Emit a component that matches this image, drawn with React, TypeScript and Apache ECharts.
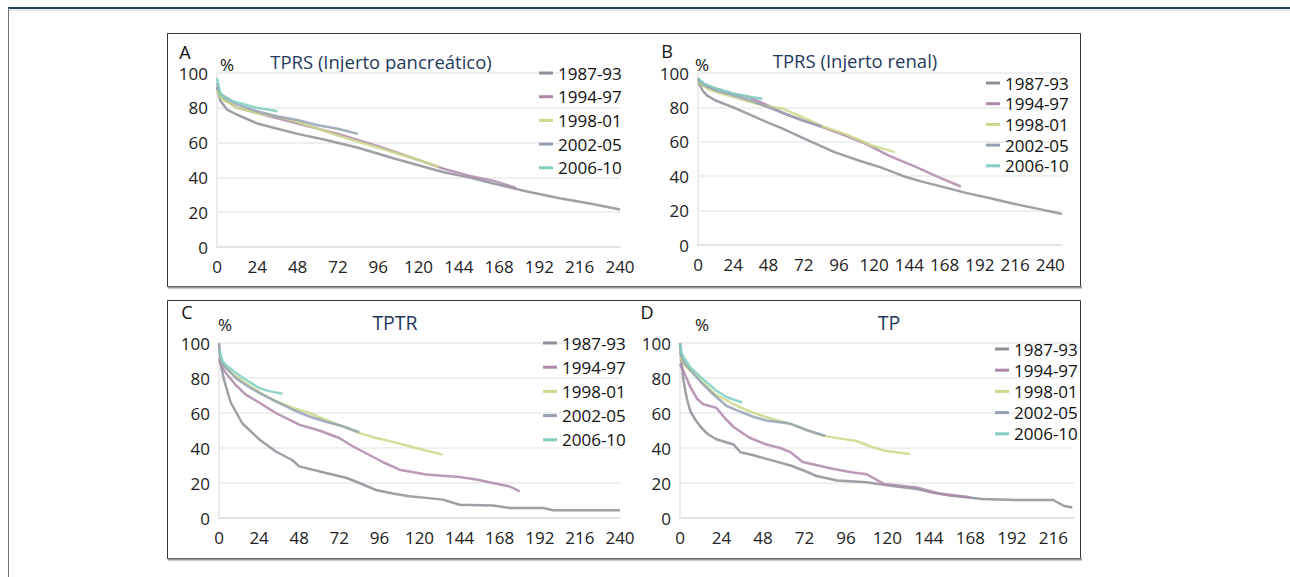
import React, { useEffect, useRef } from "react";
import * as echarts from "echarts";

// ---------- DATA ----------
const seriesNames = ["1987-93", "1994-97", "1998-01", "2002-05", "2006-10"];
const seriesColors = ["#8e8e98", "#ad88aa", "#cbd88a", "#95a0b4", "#80cfc0"];
const panelTitles = ["TPRS (Injerto pancreático)", "TPRS (Injerto renal)", "TPTR", "TP"];
const panelLetters = ["A", "B", "C", "D"];
const xTickStep = 24;
const yTicks = [0, 20, 40, 60, 80, 100];

// Panel A – TPRS (Injerto pancreático): [month, %]
const a1987 = [[0,92],[2,84],[6,79],[12,76],[24,71],[36,68],[48,65],[65,61.5],[84,57],[105,51],[120,47],[135,43],[150,40],[164,36.6],[184,32],[204,28],[222,25],[240,21.6]];
const a1994 = [[0,90],[3,86],[12,80],[24,77],[36,74],[48,71],[72,65],[96,58],[120,50],[135,45],[150,41],[165,38],[178,34]];
const a1998 = [[0,90],[3,85],[12,80],[24,77],[36,75],[48,72],[72,64],[96,57],[110,53],[120,50],[132,46]];
const a2002 = [[0,94],[2,88],[12,82],[24,78],[36,75],[48,73],[60,70],[72,68],[84,65]];
const a2006 = [[0,97],[2,88],[6,85],[12,83],[24,80],[36,78]];

// Panel B – TPRS (Injerto renal)
const b1987 = [[0,95],[3,90],[6,87],[12,84],[24,80],[35,76],[48,71],[57,68],[72,62],[93,54],[110,49],[125,45],[140,40],[152,37],[168,33.5],[184,30],[200,27],[215,24],[232,21],[248,18]];
const b1994 = [[0,97],[3,93],[12,91],[24,88],[35,86],[48,81],[60,76],[80,70],[96,65],[114,59],[130,52],[148,45.6],[165,39],[179,34]];
const b1998 = [[0,95],[6,91],[12,89],[24,86],[30,84.5],[45,81],[57,79.5],[72,74],[85,69],[102,64],[118,58],[134,54]];
const b2002 = [[0,96],[6,92],[12,90],[24,87],[36,84],[48,80],[60,76],[72,72],[84,69]];
const b2006 = [[0,97],[4,94],[12,91],[24,88],[36,86],[44,85]];

// Panel C – TPTR
const c1987 = [[0,100],[1,88],[3,79],[7,66],[14,54],[24,45],[34,38],[44,33],[48,29.5],[64,25.7],[76,23],[84,20],[94,16],[104,14],[114,12.4],[124,11.5],[134,10.5],[144,7.6],[164,7.2],[174,5.7],[194,5.7],[200,4.4],[240,4.4]];
const c1994 = [[0,90],[1,88],[4,83],[10,76],[16,70.5],[24,66],[34,60],[48,53.3],[60,50],[72,45.7],[80,41],[88,37],[98,32],[108,27.6],[124,24.8],[144,23.4],[154,22],[164,20],[174,18],[180,15.2]];
const c1998 = [[0,91],[4,86],[10,81],[16,77],[24,72],[34,66.7],[44,63],[54,60],[64,56],[74,52.4],[84,48.5],[94,45.7],[104,43.5],[114,41],[124,38.5],[134,36.2]];
const c2002 = [[0,91],[4,86],[10,80],[16,76],[24,71.5],[34,66.7],[44,62],[54,58],[64,55],[74,52.4],[84,49]];
const c2006 = [[0,96],[2,90],[4,87.6],[10,83],[16,79],[24,74.3],[30,72.5],[38,71]];

// Panel D – TP
const d1987 = [[0,100],[1,88],[2,78.6],[4,68],[6,61],[9,56],[12,52],[16,48],[21,45],[31,42],[35,37.6],[42,36],[50,33.8],[64,30],[72,27],[79,24],[91,21.4],[108,20.4],[121,18.5],[137,16.6],[146,14.5],[156,12.8],[175,10.9],[195,10.3],[216,10.3],[222,7],[227,6]];
const d1994 = [[0,88],[2,84],[6,74.8],[10,68],[13.5,65],[21,63],[26,57],[31,52],[40,46],[50,42],[58,40],[64,37.6],[71,32],[80,30],[89,28],[100,26],[108,25],[118,19.5],[137,17.5],[150,14],[168,11.8]];
const d1998 = [[0,92],[4,86],[12,78.6],[20,71],[31,65],[40,61],[50,57.6],[64,53.8],[74,50],[83,47],[92,45.5],[102,44],[110,41],[118,38.5],[133,36.6]];
const d2002 = [[0,95],[3,88],[12,77.7],[20,70],[27,64],[33,61.5],[42,58],[50,55.7],[64,53.8],[74,50],[84,47]];
const d2006 = [[0,100],[1,94],[2,92],[6,86],[12,80.5],[21,72.9],[27,69],[33,67],[36,66]];

const panelData = [
  [a1987, a1994, a1998, a2002, a2006],
  [b1987, b1994, b1998, b2002, b2006],
  [c1987, c1994, c1998, c2002, c2006],
  [d1987, d1994, d1998, d2002, d2006],
];
const panelXMax = [240, 248, 240, 228];

// ---------- LAYOUT ----------
const FONT = "'Open Sans', 'Noto Sans', sans-serif";
const grids = [
  { left: 217, top: 73, width: 403, height: 174 },
  { left: 698, top: 73, width: 364, height: 172 },
  { left: 219, top: 343, width: 401, height: 175 },
  { left: 680, top: 343, width: 394, height: 175 },
];
const legendPos = [
  { left: 534, top: 58, itemGap: 3.7 },
  { left: 981, top: 68, itemGap: 0.7 },
  { left: 538, top: 328, itemGap: 4.2 },
  { left: 990, top: 334, itemGap: 1.2 },
];
const letterPos = [[185, 52], [667, 51], [187, 312], [647, 312]];
const pctPos = [[227, 64], [702, 64], [225, 324], [702, 324]];
const titlePos = [[381, 61, 18.5], [855, 60, 18.5], [395, 322, 19.5], [889, 322, 19.5]];

export default function App() {
  const ref = useRef<HTMLDivElement>(null);
  useEffect(() => {
    if (!ref.current) return;
    const chart = echarts.init(ref.current, undefined, { renderer: "svg" });

    const xAxes = grids.map((_, i) => ({
      type: "value",
      gridIndex: i,
      min: 0,
      max: panelXMax[i],
      interval: xTickStep,
      axisLine: { show: true, lineStyle: { color: "#e4e4e4", width: 2 } },
      axisTick: { show: false },
      splitLine: { show: false },
      axisLabel: {
        color: "#222",
        fontSize: 17,
        fontFamily: FONT,
        margin: 11,
        formatter: (v: number) => (v % xTickStep === 0 ? String(v) : ""),
      },
    }));
    const yAxes = grids.map((_, i) => ({
      type: "value",
      gridIndex: i,
      min: yTicks[0],
      max: yTicks[yTicks.length - 1],
      interval: 20,
      axisLine: { show: true, lineStyle: { color: "#ececec", width: 2 } },
      axisTick: { show: false },
      splitLine: { show: true, lineStyle: { color: "#efefef", width: 2 } },
      axisLabel: { color: "#222", fontSize: 17, fontFamily: FONT, margin: 9 },
    }));

    const series: any[] = [];
    panelData.forEach((panel, p) => {
      panel.forEach((data, s) => {
        series.push({
          type: "line",
          name: seriesNames[s],
          xAxisIndex: p,
          yAxisIndex: p,
          data,
          showSymbol: false,
          symbol: "none",
          silent: true,
          z: 2 + s,
          lineStyle: { color: seriesColors[s], width: 2.5, opacity: 0.85 },
          itemStyle: { color: seriesColors[s] },
        });
      });
    });

    const legends = legendPos.map((lp) => ({
      data: seriesNames,
      orient: "vertical",
      left: lp.left,
      top: lp.top,
      itemGap: lp.itemGap,
      itemWidth: 14,
      itemHeight: 3,
      icon: "rect",
      selectedMode: false,
      textStyle: { fontSize: 17, color: "#111", fontFamily: FONT, lineHeight: 20 },
    }));

    const graphics: any[] = [
      { type: "line", shape: { x1: 8, y1: 8, x2: 1290, y2: 8 }, style: { stroke: "#2a4258", lineWidth: 2 } },
      { type: "line", shape: { x1: 8, y1: 10, x2: 1290, y2: 10 }, style: { stroke: "#c9d4de", lineWidth: 1 } },
      { type: "line", shape: { x1: 8.5, y1: 8, x2: 8.5, y2: 577 }, style: { stroke: "#707070", lineWidth: 1 } },
      { type: "rect", shape: { x: 167.5, y: 33.5, width: 913, height: 253 }, style: { fill: "none", stroke: "#333", lineWidth: 1 } },
      { type: "line", shape: { x1: 168, y1: 287.5, x2: 1082, y2: 287.5 }, style: { stroke: "#9a9a9a", lineWidth: 2 } },
      { type: "rect", shape: { x: 167.5, y: 300.5, width: 913, height: 258 }, style: { fill: "none", stroke: "#333", lineWidth: 1 } },
      { type: "line", shape: { x1: 168, y1: 559.5, x2: 1082, y2: 559.5 }, style: { stroke: "#9a9a9a", lineWidth: 2 } },
    ];
    panelLetters.forEach((L, i) => {
      graphics.push({
        type: "text",
        x: letterPos[i][0],
        y: letterPos[i][1],
        style: { text: L, fontSize: 18, fontFamily: FONT, fill: "#111", align: "center", verticalAlign: "middle" },
      });
      graphics.push({
        type: "text",
        x: pctPos[i][0],
        y: pctPos[i][1],
        style: { text: "%", fontSize: 17, fontFamily: FONT, fill: "#111", align: "center", verticalAlign: "middle" },
      });
      graphics.push({
        type: "text",
        x: titlePos[i][0],
        y: titlePos[i][1],
        style: { text: panelTitles[i], fontSize: titlePos[i][2], fontFamily: FONT, fill: "#1f3a5c", align: "center", verticalAlign: "middle" },
      });
    });

    chart.setOption({
      animation: false,
      backgroundColor: "#fff",
      grid: grids.map((g) => ({ ...g, containLabel: false })),
      xAxis: xAxes,
      yAxis: yAxes,
      legend: legends,
      series,
      graphic: graphics,
    });
    return () => chart.dispose();
  }, []);

  return (
    <div
      ref={ref}
      style={{ position: "fixed", left: 0, top: 0, width: 1290, height: 577, background: "#fff" }}
    />
  );
}
